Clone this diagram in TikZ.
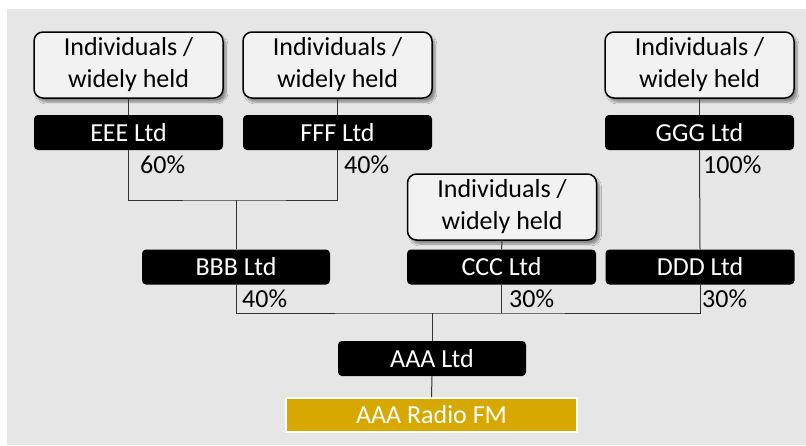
\documentclass[tikz,border=0pt]{standalone}
\usepackage{fontspec}
\setmainfont{Carlito}
\usetikzlibrary{positioning,shadows.blur}

\definecolor{panelgrey}{HTML}{E6E6E6}
\definecolor{ownergrey}{HTML}{F2F2F2}
\definecolor{radiogold}{HTML}{D6A800}

\tikzset{
	owner/.style={draw=black, line width=1.5pt, fill=ownergrey, rounded corners=9pt,
		minimum width=189pt, minimum height=66pt, inner sep=0pt, align=center,
		blur shadow={shadow xshift=3pt, shadow yshift=-4pt, shadow opacity=40, shadow blur steps=8}},
	company/.style={fill=black, text=white, rounded corners=4pt,
		minimum width=189pt, minimum height=35pt, inner sep=0pt},
	station/.style={draw=white, line width=1.6pt, fill=radiogold, text=white,
		minimum width=291pt, minimum height=34pt, inner sep=0pt},
	share/.style={anchor=base west, inner sep=0pt},
	link/.style={line width=1pt, draw=black!80}
}

\begin{document}
\begin{tikzpicture}[x=1pt,y=-1pt,font=\fontsize{26}{32}\selectfont]
	\useasboundingbox (0,0) rectangle (806,445);
	\fill[panelgrey] (7,9) rectangle (806,445);
	
	% owners at the top
	\node[owner] (ownerE) at (128.5,65) {Individuals /\\widely held};
	\node[owner] (ownerF) at (337.5,65) {Individuals /\\widely held};
	\node[owner] (ownerG) at (699.5,65) {Individuals /\\widely held};
	\node[owner] (ownerC) at (502,207) {Individuals /\\widely held};
	
	% companies
	\node[company] (eee) at (128.5,132.5) {EEE Ltd};
	\node[company] (fff) at (337.5,132.5) {FFF Ltd};
	\node[company] (ggg) at (699.5,132.5) {GGG Ltd};
	\node[company, minimum width=188pt] (bbb) at (236,267) {BBB Ltd};
	\node[company] (ccc) at (501.5,267) {CCC Ltd};
	\node[company] (ddd) at (700,267) {DDD Ltd};
	\node[company, minimum width=188pt] (aaa) at (432,358.5) {AAA Ltd};
	\node[station] (radio) at (431.5,415) {AAA Radio FM};
	
	% holdings
	\node[share] (eeeshare) at (140,173) {60\%};
	\node[share] (fffshare) at (344,173) {40\%};
	\node[share] (gggshare) at (703,173) {100\%};
	\node[share] (bbbshare) at (242,307) {40\%};
	\node[share] (cccshare) at (509,307) {30\%};
	\node[share] (dddshare) at (702,307) {30\%};
	
	\coordinate (joinB) at (236,200);
	\coordinate (joinA) at (432,313);
	
	\draw[link] (ownerE.south) -- (eee.north);
	\draw[link] (ownerF.south) -- (fff.north);
	\draw[link] (ownerG.south) -- (ggg.north);
	\draw[link] (ownerC.south) -- (ccc.north);
	\draw[link] (eee.south) |- (joinB) -| (fff.south);
	\draw[link] (joinB) -- (bbb.north);
	\draw[link] (ggg.south) -- (ddd.north);
	\draw[link] (bbb.south) |- (joinA) -| (ddd.south);
	\draw[link] (ccc.south) -- (ccc.south |- joinA);
	\draw[link] (joinA) -- (aaa.north);
	\draw[link] (aaa.south) -- (radio.north);
\end{tikzpicture}
\end{document}
